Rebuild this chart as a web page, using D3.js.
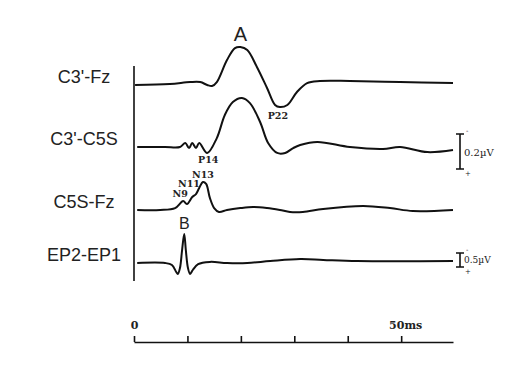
<!DOCTYPE html>
<html>
<head>
<meta charset="utf-8">
<script src="https://cdn.jsdelivr.net/npm/d3@7"></script>
<style>
  body { margin: 0; background: #fff; }
  .trace { fill: none; stroke: #111; stroke-width: 2; stroke-linejoin: round; }
  .chan { font-family: "Liberation Sans", Arial, sans-serif; font-size: 18px; fill: #222; }
  .peak { font-family: "DejaVu Serif", serif; font-size: 9.5px; font-weight: bold; fill: #222; }
  .big { font-family: "Liberation Sans", Arial, sans-serif; fill: #222; }
  .cal { font-family: "DejaVu Serif", serif; font-size: 10px; fill: #222; }
</style>
</head>
<body>
<svg id="chart" width="525" height="369"></svg>
<script>
// channel names, top to bottom
const channels = ["C3'-Fz", "C3'-C5S", "C5S-Fz", "EP2-EP1"];

// time (ms) / amplitude (uV, negative drawn upward)
const c3fzTime = [0.2, 6.7, 10.5, 12.4, 13.7, 14.6, 15.5, 17.4, 18.9, 19.9, 21.2, 23.0, 24.9, 26.4, 27.3, 28.7, 30.5, 32.4, 34.8, 40.4, 49.8, 59.7];
const c3fzAmp  = [0, -0.006, -0.017, -0.017, 0, 0.006, -0.017, -0.143, -0.211, -0.217, -0.2, -0.103, 0.017, 0.114, 0.126, 0.114, 0.04, -0.011, -0.023, -0.023, -0.017, -0.011];

const c3c5Time = [0.6, 5.8, 8.6, 9.6, 10.3, 10.9, 11.6, 12.2, 13.7, 15.5, 17.0, 18.5, 20.2, 21.7, 23.6, 25.1, 26.8, 28.3, 29.8, 31.1, 34.3, 40.4, 46.6, 49.8, 54.9, 59.7];
const c3c5Amp  = [0, 0, 0, -0.023, 0.006, -0.023, 0.006, -0.023, 0.034, -0.051, -0.183, -0.257, -0.28, -0.251, -0.143, -0.023, 0.034, 0.034, 0.006, -0.011, -0.029, 0, 0.011, 0, 0.029, 0.017];

const c5fzTime = [0.6, 4.9, 7.7, 9.2, 9.9, 10.9, 11.6, 12.2, 12.9, 13.5, 14.2, 15.0, 15.9, 17.4, 19.9, 22.3, 24.9, 27.3, 29.2, 31.6, 35.4, 42.9, 47.9, 52.2, 59.7];
const c5fzAmp  = [0, 0, -0.011, -0.051, -0.034, -0.074, -0.091, -0.126, -0.16, -0.149, -0.069, -0.011, 0.011, 0, -0.011, -0.017, -0.011, 0, 0.011, 0.011, -0.006, -0.023, -0.011, 0.006, 0];

const epTime = [0.6, 5.8, 7.1, 7.9, 8.2, 8.6, 9.0, 9.4, 9.7, 10.1, 10.5, 11.0, 12.0, 14.2, 17.4, 21.2, 25.5, 31.1, 35.4, 41.8, 59.7];
const epAmp  = [0, 0, 0.07, 0.32, 0.39, 0.18, -0.46, -1.04, -0.46, 0.18, 0.39, 0.25, 0.04, -0.04, 0, 0, -0.07, -0.14, -0.11, -0.07, -0.07];

// peak labels
const peakNames    = ["A", "P22", "P14", "N9", "N11", "N13", "B"];
const peakTimes    = [19.9, 27.3, 13.7, 9.2, 11.6, 12.9, 9.4];
const peakChannels = [0, 0, 1, 2, 2, 2, 3];

// time axis
const tickValues = [0, 10, 20, 30, 40, 50];

// calibration bars
const calValues   = [0.2, 0.5];
const calLabels   = ["0.2\u00b5V", "0.5\u00b5V"];
const calChannels = [1, 3];

const series = [
  {time: c3fzTime, amp: c3fzAmp},
  {time: c3c5Time, amp: c3c5Amp},
  {time: c5fzTime, amp: c5fzAmp},
  {time: epTime, amp: epAmp}
];

const svg = d3.select('#chart');

const x = d3.scaleLinear().domain([0, 59.7]).range([134, 453]);
const baseline = d3.scaleOrdinal().domain(channels).range([85, 147, 210, 263]);
const gain = d3.scaleOrdinal().domain(channels).range([175, 175, 175, 28]); // px per uV
const yFor = (i) => {
  const b = baseline(channels[i]);
  return d3.scaleLinear().domain([0, 1]).range([b, b + gain(channels[i])]);
};

// vertical line at t=0
svg.append('line')
  .attr('x1', x(0)).attr('x2', x(0))
  .attr('y1', 66).attr('y2', 281)
  .attr('stroke', '#111').attr('stroke-width', 1.6);

// traces
series.forEach((s, i) => {
  const y = yFor(i);
  const pts = s.time.map((t, k) => [t, s.amp[k]]);
  const line = d3.line()
    .x(d => x(d[0]))
    .y(d => y(d[1]))
    .curve(d3.curveCatmullRom.alpha(0.5));
  svg.append('path').attr('class', 'trace').attr('d', line(pts));

  svg.append('text')
    .attr('class', 'chan')
    .attr('x', 84)
    .attr('y', baseline(channels[i]) - 2)
    .attr('text-anchor', 'middle')
    .text(channels[i]);
});

// peak labels
const labelStyle = {
  'A':   {dx: 0,  dy: -6,  size: 20, cls: 'big'},
  'B':   {dx: 0,  dy: -5,  size: 16, cls: 'big'},
  'P22': {dx: -2, dy: 12,  cls: 'peak'},
  'P14': {dx: 1,  dy: 10,  cls: 'peak'},
  'N9':  {dx: -3, dy: -4,  cls: 'peak'},
  'N11': {dx: -7, dy: -7,  cls: 'peak'},
  'N13': {dx: 0,  dy: -4,  cls: 'peak'}
};
peakNames.forEach((name, k) => {
  const ch = peakChannels[k];
  const s = series[ch];
  const idx = s.time.indexOf(peakTimes[k]);
  const st = labelStyle[name];
  const t = svg.append('text')
    .attr('class', st.cls)
    .attr('x', x(peakTimes[k]) + st.dx)
    .attr('y', yFor(ch)(s.amp[idx]) + st.dy)
    .attr('text-anchor', 'middle')
    .text(name);
  if (st.size) t.style('font-size', st.size + 'px');
});

// calibration bars
calValues.forEach((v, k) => {
  const ch = calChannels[k];
  const y = yFor(ch);
  const top = baseline(channels[ch]) - (k === 0 ? 13 : 10);
  const bot = top + (y(v) - y(0));
  const bx = 460;
  const g = svg.append('g');
  g.append('path')
    .attr('d', `M${bx - 4},${top}H${bx + 4}M${bx},${top}V${bot}M${bx - 4},${bot}H${bx + 4}`)
    .attr('stroke', '#111').attr('stroke-width', 1.6).attr('fill', 'none');
  g.append('text').attr('class', 'cal').style('font-size', '7px')
    .attr('x', bx + 6).attr('y', top - 1).text('-');
  g.append('text').attr('class', 'cal').style('font-size', '7px')
    .attr('x', bx + 5).attr('y', bot + 7).text('+');
  g.append('text').attr('class', 'cal')
    .style('font-size', k === 0 ? '10px' : '9px')
    .attr('x', bx + 4).attr('y', (top + bot) / 2 + (k === 0 ? 4 : 3))
    .text(calLabels[k]);
});

// time axis
const axis = d3.axisTop(x)
  .tickValues(tickValues)
  .tickSize(6)
  .tickSizeOuter(0)
  .tickPadding(7)
  .tickFormat(d => d === 0 ? '0' : d === 50 ? '50ms' : '');

const gAxis = svg.append('g')
  .attr('transform', 'translate(0,342)')
  .call(axis);
gAxis.select('.domain').attr('stroke', '#111').attr('stroke-width', 1.6);
gAxis.selectAll('.tick line').attr('stroke', '#111').attr('stroke-width', 1.6);
gAxis.selectAll('.tick text')
  .attr('font-family', '"DejaVu Serif", serif')
  .attr('font-size', 11)
  .attr('font-weight', 'bold')
  .attr('fill', '#222')
  .attr('dx', d => d === 50 ? 4 : 0);
</script>
</body>
</html>
